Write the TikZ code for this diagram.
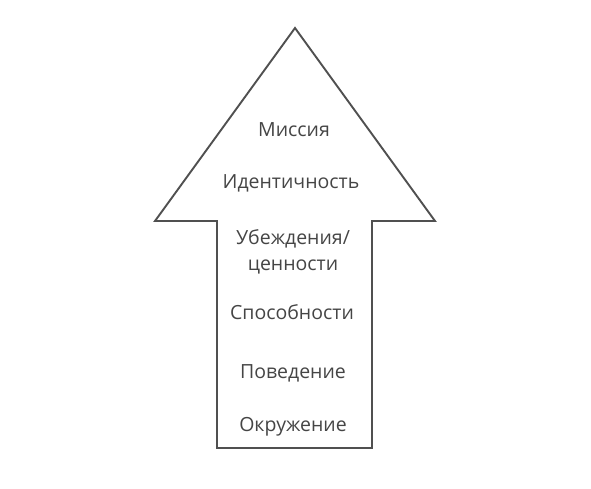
\documentclass[tikz,border=0pt]{standalone}
\usepackage{fontspec}
\setmainfont{Open Sans}
\definecolor{ink}{HTML}{505050}
\definecolor{txt}{HTML}{454545}
\begin{document}
\begin{tikzpicture}[x=1pt,y=-1pt,
  lbl/.style={anchor=base,text=txt,font=\fontsize{19.5}{26}\selectfont,inner sep=0pt,align=center}]
\useasboundingbox (0,0) rectangle (591,488);
\draw[ink,line width=1.9pt,line join=miter]
  (295,28) -- (435,221) -- (372,221) -- (372,448) -- (217,448) -- (217,221) -- (155,221) -- cycle;
\node[lbl] (m) at (294,136) {Миссия};
\node[lbl] (i) at (291,188) {Идентичность};
\node[lbl] (u) at (293,244) {Убеждения/};
\node[lbl] (c) at (293,270) {ценности};
\node[lbl] (s) at (292,319) {Способности};
\node[lbl] (p) at (293,378) {Поведение};
\node[lbl] (o) at (293,431) {Окружение};
\end{tikzpicture}
\end{document}
